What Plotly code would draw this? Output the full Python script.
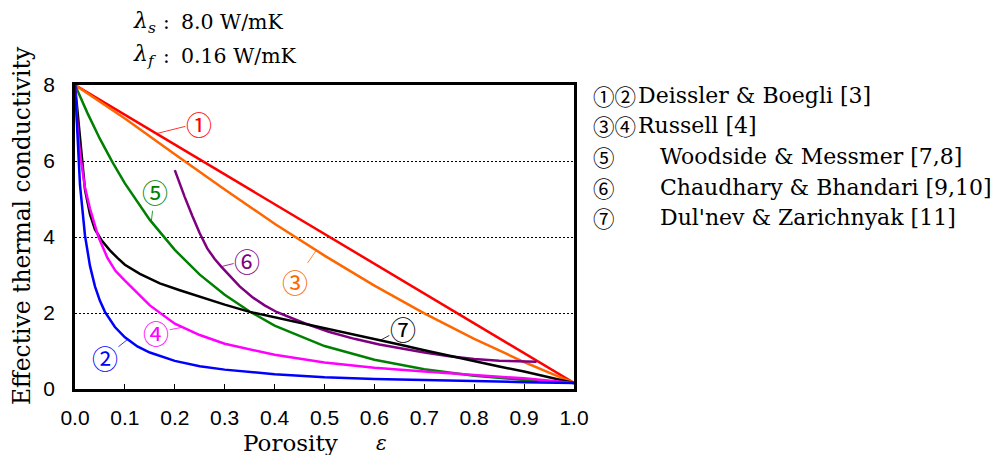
import plotly.graph_objects as go

# ---------------- data ----------------
eps_1 = [0.0, 0.25, 0.5, 0.75, 1.0]
k_1 = [8.0, 6.04, 4.08, 2.12, 0.16]

eps_2 = [0.0, 0.01, 0.02, 0.03, 0.04, 0.05, 0.06, 0.08, 0.1, 0.125, 0.15, 0.2,
         0.25, 0.3, 0.4, 0.5, 0.6, 0.7, 0.8, 0.9, 1.0]
k_2 = [8.0, 5.37, 4.04, 3.24, 2.70, 2.32, 2.03, 1.63, 1.36, 1.12, 0.96, 0.74,
       0.60, 0.51, 0.39, 0.31, 0.26, 0.23, 0.20, 0.18, 0.16]

eps_3 = [0.0, 0.1, 0.2, 0.3, 0.4, 0.5, 0.6, 0.7, 0.8, 0.9, 0.95, 1.0]
k_3 = [8.0, 7.12, 6.18, 5.25, 4.35, 3.51, 2.72, 1.99, 1.32, 0.71, 0.43, 0.16]

eps_4 = [0.0, 0.005, 0.01, 0.02, 0.03, 0.047, 0.065, 0.081, 0.1, 0.134, 0.15,
         0.2, 0.25, 0.3, 0.4, 0.5, 0.6, 0.7, 0.8, 0.9, 1.0]
k_4 = [8.0, 6.9, 6.2, 5.3, 4.75, 4.0, 3.45, 3.11, 2.85, 2.41, 2.2,
       1.72, 1.42, 1.19, 0.9, 0.7, 0.56, 0.46, 0.37, 0.28, 0.16]

eps_5 = [0.0, 0.025, 0.05, 0.075, 0.1, 0.15, 0.2, 0.25, 0.3, 0.35, 0.4, 0.5,
         0.6, 0.7, 0.8, 0.9, 1.0]
k_5 = [8.0, 7.26, 6.58, 5.97, 5.41, 4.45, 3.66, 3.01, 2.48, 2.04, 1.67, 1.13,
       0.77, 0.52, 0.35, 0.24, 0.16]

eps_6 = [0.2, 0.21, 0.22, 0.235, 0.25, 0.265, 0.28, 0.293, 0.31, 0.33, 0.355,
         0.38, 0.405, 0.43, 0.46, 0.51, 0.56, 0.61, 0.66, 0.7, 0.75, 0.8,
         0.85, 0.9, 0.925]
k_6 = [5.76, 5.4, 5.05, 4.56, 4.1, 3.7, 3.42, 3.22, 2.97, 2.7, 2.42,
       2.2, 2.02, 1.88, 1.73, 1.5, 1.32, 1.17, 1.05, 0.96, 0.86, 0.79,
       0.745, 0.72, 0.72]

eps_7 = [0.0, 0.01, 0.02, 0.03, 0.04, 0.054, 0.07, 0.085, 0.1, 0.13, 0.17,
         0.21, 0.26, 0.3, 0.35, 0.4, 0.45, 0.5, 0.55, 0.6, 0.65, 0.7, 0.75,
         0.8, 0.85, 0.9, 0.95, 1.0]
k_7 = [8.0, 6.6, 5.25, 4.6, 4.2, 3.9, 3.65, 3.45, 3.27, 3.03, 2.78,
       2.6, 2.38, 2.22, 2.03, 1.89, 1.74, 1.6, 1.46, 1.32, 1.17, 1.02, 0.87,
       0.72, 0.59, 0.46, 0.32, 0.16]

x_ticks = [0.0, 0.1, 0.2, 0.3, 0.4, 0.5, 0.6, 0.7, 0.8, 0.9, 1.0]
x_tick_text = ["0.0", "0.1", "0.2", "0.3", "0.4", "0.5", "0.6", "0.7", "0.8", "0.9", "1.0"]
y_ticks = [0, 2, 4, 6, 8]
y_tick_text = ["0", "2", "4", "6", "8"]

legend_marks = ["①②", "③④", "⑤", "⑥", "⑦"]
legend_names = ["Deissler & Boegli [3]", "Russell [4]", "Woodside & Messmer [7,8]",
                "Chaudhary & Bhandari [9,10]", "Dul'nev & Zarichnyak [11]"]

# curve label: (mark, colour, point on curve, label position)
curve_labels = [
    ("①", "#FF0000", (0.163, 6.72), (0.248, 7.0)),
    ("②", "#0000FF", (0.105, 1.30), (0.060, 0.83)),
    ("③", "#FF6600", (0.483, 3.64), (0.440, 2.82)),
    ("④", "#FF00FF", (0.213, 1.62), (0.163, 1.49)),
    ("⑤", "#008000", (0.153, 4.42), (0.160, 5.19)),
    ("⑥", "#7F007F", (0.293, 3.22), (0.345, 3.39)),
    ("⑦", "#000000", (0.613, 1.29), (0.657, 1.60)),
]

# ---------------- figure ----------------
W, H = 1005, 455
L, R, T, B = 75, 431, 85, 66
PW, PH = W - L - R, H - T - B


def pxx(x):
    return (x - L) / PW


def pxy(y):
    return (H - B - y) / PH


series = [
    (eps_1, k_1, "#FF0000"),
    (eps_3, k_3, "#FF6600"),
    (eps_5, k_5, "#008000"),
    (eps_6, k_6, "#7F007F"),
    (eps_7, k_7, "#000000"),
    (eps_4, k_4, "#FF00FF"),
    (eps_2, k_2, "#0000FF"),
]

fig = go.Figure()
for xs, ys, col in series:
    fig.add_trace(go.Scatter(x=xs, y=ys, mode="lines",
                             line=dict(color=col, width=2.5),
                             showlegend=False, hoverinfo="skip"))

SERIF = "DejaVu Serif"
CJK = "Noto Sans CJK JP"
ann = []

for mark, col, (cx, cy), (lx, ly) in curve_labels:
    ann.append(dict(x=cx, y=cy, ax=lx, ay=ly, xref="x", yref="y",
                    axref="x", ayref="y", text=mark, showarrow=True,
                    arrowhead=0, arrowwidth=0.8, arrowcolor=col, standoff=0,
                    borderpad=0, font=dict(family=CJK, size=26, color=col)))

legend_rows = [95, 125.5, 156, 187, 217.5]
name_x = [636, 636, 658, 658, 658]
for i, (m, n) in enumerate(zip(legend_marks, legend_names)):
    ann.append(dict(x=pxx(591), y=pxy(legend_rows[i]), xref="paper", yref="paper",
                    xanchor="left", yanchor="middle", text=m, showarrow=False,
                    font=dict(family=CJK, size=21.5, color="black")))
    ann.append(dict(x=pxx(name_x[i]), y=pxy(legend_rows[i]), xref="paper", yref="paper",
                    xanchor="left", yanchor="middle", text=n, showarrow=False,
                    font=dict(family=SERIF, size=22, color="black")))

# property labels at top-left
for row_y, sub, val in [(22, "s", "8.0 W/mK"), (56, "f", "0.16 W/mK")]:
    ann.append(dict(x=pxx(131), y=pxy(row_y), xref="paper", yref="paper",
                    xanchor="left", yanchor="middle",
                    text="<i>λ</i><sub><i>%s</i></sub>" % sub, showarrow=False,
                    font=dict(family=SERIF, size=22, color="black")))
    ann.append(dict(x=pxx(166), y=pxy(row_y), xref="paper", yref="paper",
                    xanchor="center", yanchor="middle", text=":", showarrow=False,
                    font=dict(family=SERIF, size=20, color="black")))
    ann.append(dict(x=pxx(179), y=pxy(row_y), xref="paper", yref="paper",
                    xanchor="left", yanchor="middle", text=val, showarrow=False,
                    font=dict(family=SERIF, size=20.5, color="black")))

# axis titles
ann.append(dict(x=pxx(22), y=pxy(226), xref="paper", yref="paper",
                xanchor="center", yanchor="middle", textangle=-90,
                text="Effective thermal conductivity", showarrow=False,
                font=dict(family=SERIF, size=23.4, color="black")))
ann.append(dict(x=pxx(290), y=pxy(443), xref="paper", yref="paper",
                xanchor="center", yanchor="middle", text="Porosity",
                showarrow=False, font=dict(family=SERIF, size=23, color="black")))
ann.append(dict(x=pxx(381), y=pxy(443), xref="paper", yref="paper",
                xanchor="center", yanchor="middle", text="<i>ε</i>",
                showarrow=False, font=dict(family=SERIF, size=20, color="black")))

fig.update_layout(
    width=W, height=H,
    margin=dict(l=L, r=R, t=T, b=B, pad=0),
    paper_bgcolor="white", plot_bgcolor="white",
    annotations=ann,
    xaxis=dict(range=[0, 1], tickvals=x_ticks, ticktext=x_tick_text,
               ticks="inside", ticklen=5, tickwidth=1, tickcolor="black",
               showline=True, linewidth=2.5, linecolor="black", mirror=True,
               showgrid=False, zeroline=False, ticklabelstandoff=8,
               automargin=False,
               tickfont=dict(family="Liberation Sans", size=21, color="black")),
    yaxis=dict(range=[0, 8], tickvals=y_ticks, ticktext=y_tick_text,
               ticks="", showline=True, linewidth=2.5, linecolor="black",
               mirror=True, showgrid=True, gridcolor="black", gridwidth=1.2,
               griddash="2px,2px", zeroline=False, ticklabelstandoff=13,
               automargin=False,
               tickfont=dict(family="Liberation Sans", size=21, color="black")),
)

fig.write_html("out.html", config={"displayModeBar": False},
               post_script="document.body.style.margin='0';document.body.style.padding='0';")
